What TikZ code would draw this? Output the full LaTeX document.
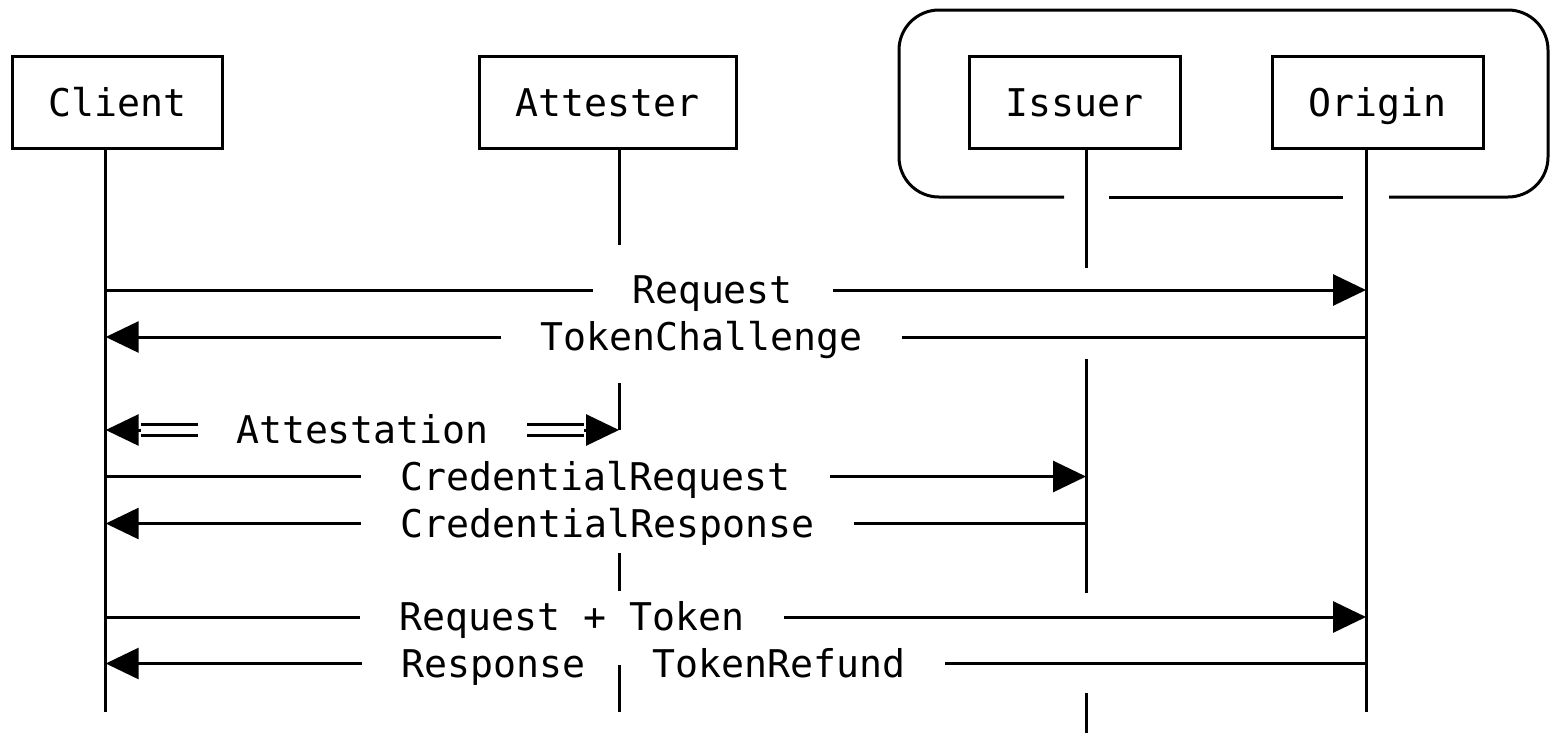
\documentclass[tikz,border=0pt]{standalone}
\usepackage{fontspec}
\newfontfamily\seqmono{DejaVu Sans Mono}
\newcommand\seqfont{\seqmono\fontsize{38.2pt}{42pt}\selectfont}
\usetikzlibrary{arrows.meta}

\begin{document}
\begin{tikzpicture}[x=1pt, y=-1pt, line width=3pt,
	party/.style={draw, minimum height=92pt, inner sep=0pt, font=\seqfont,
		text height=27.8pt, text depth=0pt},
	msg/.style={font=\seqfont, inner ysep=0pt, inner xsep=38pt,
		text height=27.8pt, text depth=0pt},
	tip/.style={-{Triangle[length=33pt, width=31pt]}},
	dbl/.style={double, double distance=8pt}]
	
	\fill[white] (0,0) rectangle (1551,732);
	\useasboundingbox (0,0) rectangle (1551,732);
	
	% participants
	\node[party, minimum width=210pt] (client) at (117.7,102.9) {Client};
	\node[party, minimum width=257pt] (attester) at (607.5,102.9) {Attester};
	\node[party, minimum width=211pt] (issuer) at (1074.5,102.9) {Issuer};
	\node[party, minimum width=211pt] (origin) at (1377.5,102.9) {Origin};
	
	\coordinate (cl) at (105.7,0);
	\coordinate (al) at (619,0);
	\coordinate (il) at (1086,0);
	\coordinate (ol) at (1366,0);
	
	% issuer and origin grouped together
	\draw[rounded corners=40pt] (1064,197) -- (899,197) -- (899,10) -- (1548,10) -- (1548,197) -- (1389,197);
	\draw (1109,197) -- (1343,197);
	
	% lifelines
	\draw (client.south -| cl) -- (cl |- 0,712);
	\draw (origin.south -| ol) -- (ol |- 0,712);
	\draw (attester.south -| al) -- (al |- 0,245);
	\foreach \a/\b in {383/430, 553/591, 665/712}
		\draw (619,\a) -- (619,\b);
	\draw (issuer.south -| il) -- (il |- 0,268);
	\foreach \a/\b in {359/593, 693/740}
		\draw (1086,\a) -- (1086,\b);
	
	% messages
	\node[msg] (req) at (712.5,290) {Request};
	\draw (cl |- req) -- (req.west);
	\draw[tip] (req.east) -- (ol |- req);
	
	\node[msg] (chal) at (701.5,337) {TokenChallenge};
	\draw (ol |- chal) -- (chal.east);
	\draw[tip] (chal.west) -- (cl |- chal);
	
	\node[msg, inner xsep=37pt] (att) at (362.5,430) {Attestation};
	\draw[dbl] (att.west) -- ([xshift=35pt]cl |- att);
	\draw[tip] ([xshift=35pt]cl |- att) -- (cl |- att);
	\draw[dbl] (att.east) -- ([xshift=-35pt]al |- att);
	\draw[tip] ([xshift=-35pt]al |- att) -- (al |- att);
	
	\node[msg] (creq) at (595.5,476.5) {CredentialRequest};
	\draw (cl |- creq) -- (creq.west);
	\draw[tip] (creq.east) -- (il |- creq);
	
	\node[msg] (cres) at (607.5,523.5) {CredentialResponse};
	\draw (il |- cres) -- (cres.east);
	\draw[tip] (cres.west) -- (cl |- cres);
	
	\node[msg] (treq) at (572,617) {Request + Token};
	\draw (cl |- treq) -- (treq.west);
	\draw[tip] (treq.east) -- (ol |- treq);
	
	\node[msg, anchor=west] (resp) at (362,663.5) {Response};
	\node[msg, anchor=east] (refund) at (945,663.5) {TokenRefund};
	\draw (ol |- refund) -- (refund.east);
	\draw[tip] (resp.west) -- (cl |- resp);
	
\end{tikzpicture}
\end{document}
